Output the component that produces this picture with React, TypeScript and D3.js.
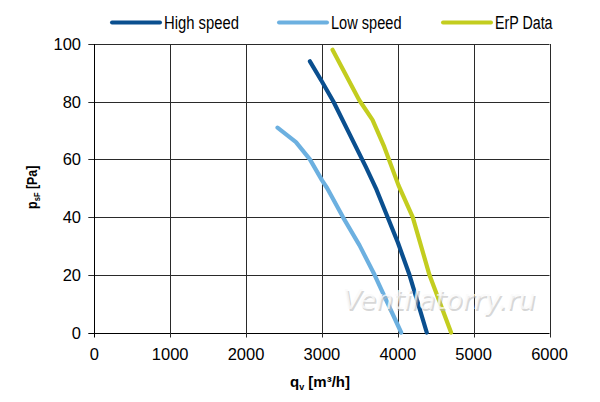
import React from "react";
import * as d3 from "d3";

const xTicks = [0, 1000, 2000, 3000, 4000, 5000, 6000];
const yTicks = [0, 20, 40, 60, 80, 100];

const highSpeedQ = [2842, 3000, 3153, 3360, 3579, 3720, 4000, 4154, 4382];
const highSpeedP = [94, 87, 80, 69, 57.4, 49.5, 31.3, 20, 0];

const lowSpeedQ = [2415, 2658, 2842, 3000, 3070, 3277, 3496, 3694, 4045];
const lowSpeedP = [71, 66, 60, 52.8, 50, 40, 30.2, 20, 0];

const erpQ = [3140, 3491, 3667, 3821, 4010, 4197, 4417, 4703];
const erpP = [98, 80.6, 73.7, 64.4, 51, 40, 20, 0];

const seriesNames = ["High speed", "Low speed", "ErP Data"];
const seriesColors = ["#0a4f8f", "#6cb0e0", "#c3cd1f"];

const W = 600;
const H = 402;
const left = 94.3;
const right = 549.5;
const top = 44;
const bottom = 332.5;

export default function App() {
  const x = d3.scaleLinear().domain([0, 6000]).range([left, right]);
  const y = d3.scaleLinear().domain([0, 100]).range([bottom, top]);
  const line = d3
    .line<[number, number]>()
    .x((d) => x(d[0]))
    .y((d) => y(d[1]));

  const series = [
    { q: highSpeedQ, p: highSpeedP },
    { q: lowSpeedQ, p: lowSpeedP },
    { q: erpQ, p: erpP },
  ];

  const legendX = [112, 279, 443];
  const legendLineLen = 48;
  const legendTextLen = [75, 70.5, 57.5];

  const tickFont = "'Liberation Sans', Arial, sans-serif";

  return (
    <svg
      width={W}
      height={H}
      style={{ position: "absolute", left: 0, top: 0, background: "#fff" }}
    >
      <rect x={0} y={0} width={W} height={H} fill="#fff" />
      {/* grid */}
      {yTicks.map((t) => (
        <line
          key={"gy" + t}
          x1={left - 6}
          x2={right}
          y1={Math.round(y(t)) + 0.5}
          y2={Math.round(y(t)) + 0.5}
          stroke={t === 0 ? "#000" : "#2a2a2a"}
          strokeWidth={1}
        />
      ))}
      {xTicks.map((t) => (
        <line
          key={"gx" + t}
          x1={Math.round(x(t)) + 0.5}
          x2={Math.round(x(t)) + 0.5}
          y1={top}
          y2={bottom + 5}
          stroke={t === 0 ? "#000" : "#2a2a2a"}
          strokeWidth={1}
        />
      ))}
      {/* tick labels */}
      {yTicks.map((t) => (
        <text
          key={"ty" + t}
          x={81}
          y={y(t) + 6}
          textAnchor="end"
          fontFamily={tickFont}
          fontSize={16.5}
          fill="#000"
        >
          {t}
        </text>
      ))}
      {xTicks.map((t) => (
        <text
          key={"tx" + t}
          x={x(t)}
          y={360}
          textAnchor="middle"
          fontFamily={tickFont}
          fontSize={16.5}
          fill="#000"
        >
          {t}
        </text>
      ))}
      {/* series */}
      {series.map((s, i) => (
        <path
          key={"s" + i}
          d={line(s.q.map((q, j) => [q, s.p[j]] as [number, number])) || ""}
          fill="none"
          stroke={seriesColors[i]}
          strokeWidth={4.2}
          strokeLinecap="round"
          strokeLinejoin="round"
        />
      ))}
      {/* watermark */}
      <g fontFamily="'DejaVu Sans', sans-serif" fontStyle="italic" fontSize={27}>
        <text x={440.5} y={310.5} textAnchor="middle" fill="#b5b5b5" fillOpacity={0.55}>
          Ventilatorry.ru
        </text>
        <text x={439} y={309} textAnchor="middle" fill="#fafafa" fillOpacity={0.8}>
          Ventilatorry.ru
        </text>
      </g>
      {/* legend */}
      {seriesNames.map((n, i) => (
        <g key={"l" + i}>
          <line
            x1={legendX[i]}
            x2={legendX[i] + legendLineLen}
            y1={22.5}
            y2={22.5}
            stroke={seriesColors[i]}
            strokeWidth={4}
            strokeLinecap="round"
          />
          <text
            x={legendX[i] + legendLineLen + 4}
            y={29}
            fontFamily={tickFont}
            fontSize={18}
            textLength={legendTextLen[i]}
            lengthAdjust="spacingAndGlyphs"
            fill="#000"
          >
            {n}
          </text>
        </g>
      ))}
      {/* axis titles */}
      <text
        x={320}
        y={387}
        textAnchor="middle"
        fontFamily={tickFont}
        fontWeight="bold"
        fontSize={15}
        fill="#000"
      >
        q<tspan fontSize={9} dy={3}>v</tspan>
        <tspan dy={-3}> [m³/h]</tspan>
      </text>
      <g transform={`translate(37, ${(top + bottom) / 2 - 1}) rotate(-90) scale(0.8, 1)`}>
        <text
          x={0}
          y={0}
          textAnchor="middle"
          fontFamily={tickFont}
          fontWeight="bold"
          fontSize={15.5}
          fill="#000"
        >
          p<tspan fontSize={9.5} dy={3}>sF</tspan>
          <tspan dy={-3}> [Pa]</tspan>
        </text>
      </g>
    </svg>
  );
}
